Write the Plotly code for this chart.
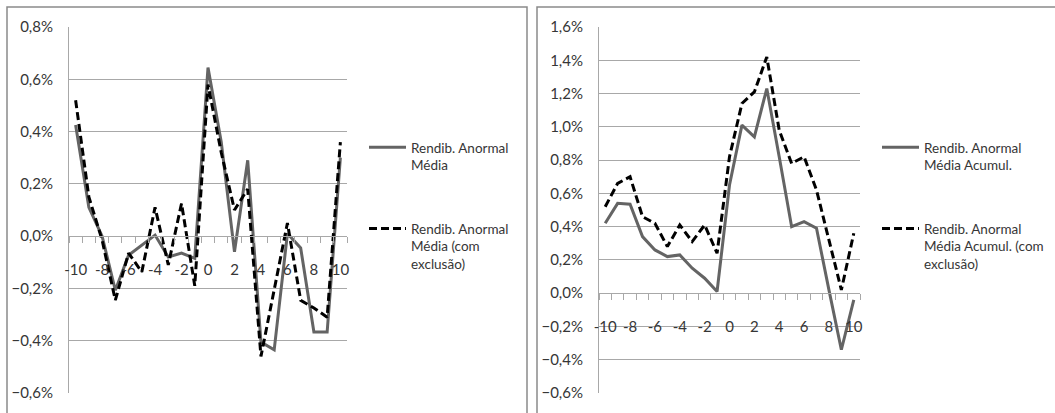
import plotly.graph_objects as go
import numpy as np

# ---- data (percent) ----
days = list(range(-10, 11))
tick_days = list(range(-10, 11, 2))

rend_media = [0.425, 0.11, 0.0, -0.207, -0.073, -0.035, 0.004, -0.08, -0.065, -0.085,
              0.645, 0.36, -0.06, 0.29, -0.405, -0.435, 0.01, -0.045, -0.367, -0.367, 0.30]
rend_media_excl = [0.52, 0.15, -0.015, -0.245, -0.065, -0.137, 0.11, -0.11, 0.125, -0.19,
                   0.58, 0.32, 0.10, 0.18, -0.46, -0.21, 0.05, -0.245, -0.275, -0.31, 0.36]
rend_acum = [0.42, 0.54, 0.535, 0.34, 0.26, 0.22, 0.23, 0.15, 0.09, 0.01,
             0.65, 1.01, 0.94, 1.23, 0.82, 0.40, 0.43, 0.39, 0.02, -0.34, -0.04]
rend_acum_excl = [0.52, 0.66, 0.70, 0.46, 0.42, 0.28, 0.41, 0.31, 0.41, 0.24,
                  0.82, 1.14, 1.21, 1.42, 0.98, 0.78, 0.82, 0.62, 0.32, 0.02, 0.36]

names_left = ["Rendib. Anormal<br>Média", "Rendib. Anormal<br>Média (com<br>exclusão)"]
names_right = ["Rendib. Anormal<br>Média Acumul.", "Rendib. Anormal<br>Média Acumul. (com<br>exclusão)"]

left_range = [-0.6, 0.8]
right_range = [-0.6, 1.6]

W, H = 1055, 413
FONT = "Lato, Roboto, sans-serif"
TXT = "#363636"
GRID = "#a8a8a8"
SOLID = "#646464"

def px_x(p):
    return p / W

def px_y(p):
    return 1 - p / H

ydom = [px_y(393), px_y(27)]

fig = go.Figure()

def pct(v):
    return np.array(v) / 100.0

fig.add_trace(go.Scatter(x=days, y=pct(rend_media), mode="lines", name=names_left[0],
                         line=dict(color=SOLID, width=3), xaxis="x", yaxis="y",
                         legend="legend", legendgroup="a"))
fig.add_trace(go.Scatter(x=days, y=pct(rend_media_excl), mode="lines", name=names_left[1],
                         line=dict(color="black", width=3, dash="8px,4px"), xaxis="x", yaxis="y",
                         legend="legend", legendgroup="b"))
fig.add_trace(go.Scatter(x=days, y=pct(rend_acum), mode="lines", name=names_right[0],
                         line=dict(color=SOLID, width=3), xaxis="x2", yaxis="y2",
                         legend="legend2", legendgroup="c"))
fig.add_trace(go.Scatter(x=days, y=pct(rend_acum_excl), mode="lines", name=names_right[1],
                         line=dict(color="black", width=3, dash="8px,4px"), xaxis="x2", yaxis="y2",
                         legend="legend2", legendgroup="d"))

def zero_pos(rng):
    f = (0 - rng[0]) / (rng[1] - rng[0])
    return ydom[0] + f * (ydom[1] - ydom[0])

boundaries = [d - 0.5 for d in days] + [days[-1] + 0.5]

def xaxis_cfg(dom, rng):
    return dict(domain=dom, range=[days[0] - 0.5, days[-1] + 0.5], anchor="free",
                position=zero_pos(rng), showgrid=False, zeroline=False,
                showline=True, linecolor=GRID, linewidth=1,
                tickmode="array", tickvals=tick_days, ticktext=[str(t) for t in tick_days],
                ticks="", ticklabelstandoff=20,
                tickfont=dict(family=FONT, size=15, color=TXT),
                minor=dict(tickmode="array", tickvals=boundaries, ticks="outside",
                           ticklen=6, tickcolor=GRID, tickwidth=1, showgrid=False),
                fixedrange=True)

def yaxis_cfg(rng, anchor_x):
    return dict(domain=ydom, range=[rng[0] / 100, rng[1] / 100], dtick=0.002, tick0=0,
                tickformat=".1%", anchor=anchor_x, showgrid=True, gridcolor=GRID, gridwidth=1,
                zeroline=False, showline=True, linecolor=GRID, linewidth=1, ticks="",
                ticklabelstandoff=12, tickfont=dict(family=FONT, size=15, color=TXT),
                fixedrange=True)

LEG_FONT = dict(family=FONT, size=13.5, color=TXT)

fig.update_layout(
    width=W, height=H, margin=dict(l=0, r=0, t=0, b=0, autoexpand=False),
    paper_bgcolor="white", plot_bgcolor="white", separators=",.",
    font=dict(family=FONT, size=15, color=TXT),
    xaxis=xaxis_cfg([px_x(69), px_x(347)], left_range),
    yaxis=yaxis_cfg(left_range, "x"),
    xaxis2=xaxis_cfg([px_x(599), px_x(860)], right_range),
    yaxis2=yaxis_cfg(right_range, "x2"),
    legend=dict(x=px_x(364), y=px_y(132), xanchor="left", yanchor="top",
                valign="top", tracegroupgap=43, itemwidth=37, bgcolor="rgba(0,0,0,0)",
                font=LEG_FONT),
    legend2=dict(x=px_x(877), y=px_y(132), xanchor="left", yanchor="top",
                 valign="top", tracegroupgap=43, itemwidth=37, bgcolor="rgba(0,0,0,0)",
                 font=LEG_FONT),
    shapes=[
        dict(type="rect", xref="paper", yref="paper", x0=px_x(7), x1=px_x(527),
             y0=-0.1, y1=px_y(7), line=dict(color="#8a8a8a", width=1.5), layer="below"),
        dict(type="rect", xref="paper", yref="paper", x0=px_x(537), x1=1.1,
             y0=-0.1, y1=px_y(7), line=dict(color="#8a8a8a", width=1.5), layer="below"),
    ],
)

fig.write_html("out.html", config={"displayModeBar": False},
               post_script="document.body.style.margin='0';document.body.style.overflow='hidden';")
